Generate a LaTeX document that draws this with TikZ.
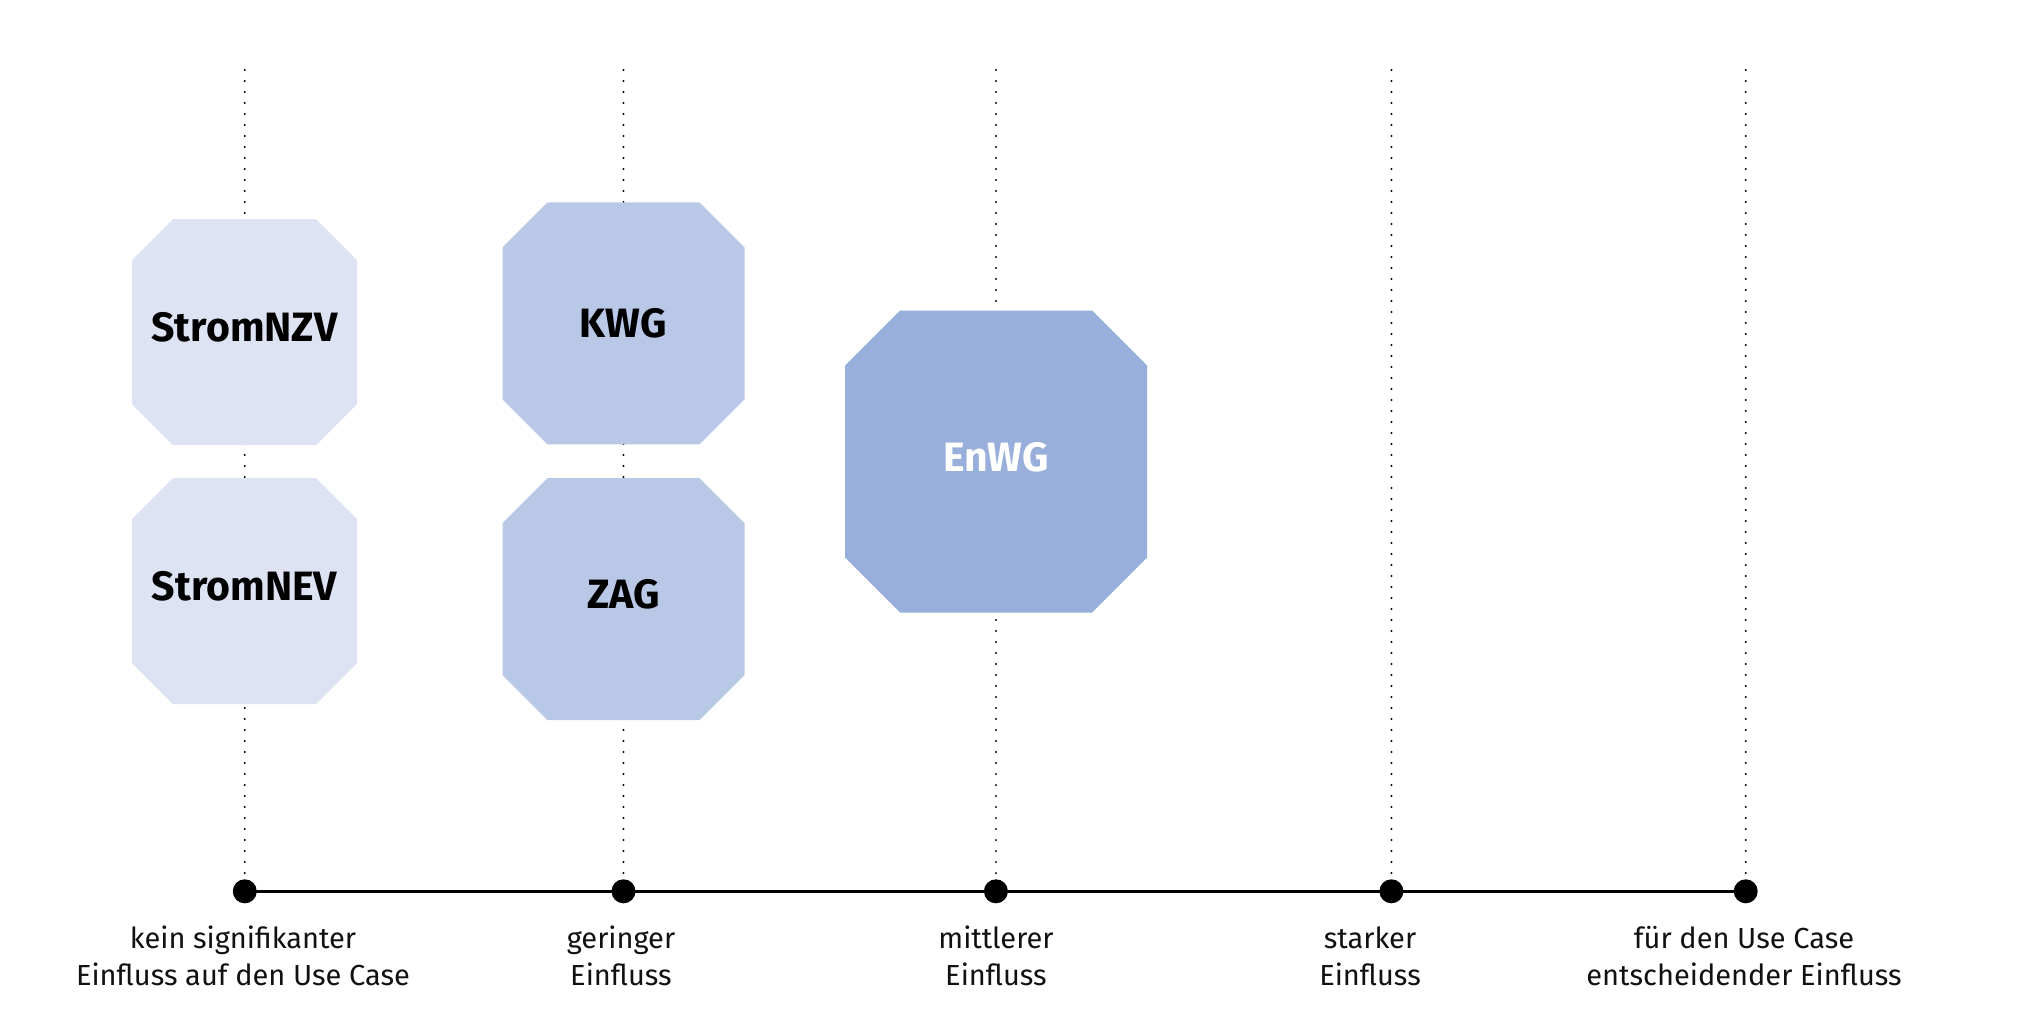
\documentclass[tikz,border=0pt]{standalone}
\usepackage{fontspec}
\setmainfont{Fira Sans}
\definecolor{clight}{HTML}{DEE3F3}
\definecolor{cmid}{HTML}{BAC8E8}
\definecolor{cdark}{HTML}{98AFDB}
\definecolor{ctext}{HTML}{111111}
\newcommand\octfill[6]{%
  \fill[#6] ({#1-#3/2+#5},{#2-#4/2}) -- ({#1+#3/2-#5},{#2-#4/2}) -- ({#1+#3/2},{#2-#4/2+#5})
    -- ({#1+#3/2},{#2+#4/2-#5}) -- ({#1+#3/2-#5},{#2+#4/2}) -- ({#1-#3/2+#5},{#2+#4/2})
    -- ({#1-#3/2},{#2+#4/2-#5}) -- ({#1-#3/2},{#2-#4/2+#5}) -- cycle;}
\tikzset{
  guide/.style={line width=2.2pt, line cap=round, dash pattern=on 0pt off 11pt, black},
  axisline/.style={line width=2.7pt, black},
  dotnode/.style={circle, fill=black, inner sep=0pt, minimum size=24pt},
  lawtext/.style={font=\fontsize{41}{46}\selectfont\bfseries, text=black, inner sep=0pt},
  lab/.style={font=\fontsize{29}{37}\selectfont, text=ctext, align=center, inner sep=0pt, anchor=base}
}
\begin{document}
\begin{tikzpicture}[x=1pt, y=-1pt]
\useasboundingbox (0,0) rectangle (2020,1018);
\fill[white] (0,0) rectangle (2020,1018);
% top coordinates of dotted guides
\coordinate (t1) at (244.8,70);
\coordinate (t2) at (623.5,70);
\coordinate (t3) at (995.9,70);
\coordinate (t4) at (1391.4,70);
\coordinate (t5) at (1745.7,70);
\coordinate (a1) at (244.8,891.3);
\coordinate (a2) at (623.5,891.3);
\coordinate (a3) at (995.9,891.3);
\coordinate (a4) at (1391.4,891.3);
\coordinate (a5) at (1745.7,891.3);
\foreach \i in {1,...,5} \draw[guide] (t\i) -- (a\i);
% octagons
\octfill{244.5}{332}{225}{226}{41}{clight}
\octfill{244.5}{591}{225}{226}{41}{clight}
\octfill{623.5}{323.4}{242}{242}{45}{cmid}
\octfill{623.5}{599.1}{242}{242}{45}{cmid}
\octfill{996}{461.5}{302}{302}{55}{cdark}
\node[lawtext] (nzv) at (244.5,327) {StromNZV};
\node[lawtext] (nev) at (244.5,586) {StromNEV};
\node[lawtext] (kwg) at (623.5,323) {KWG};
\node[lawtext] (zag) at (623.5,594) {ZAG};
\node[lawtext, text=white] (enwg) at (996,457) {EnWG};
% axis
\draw[axisline] (a1) -- (a5);
\foreach \i in {1,...,5} \node[dotnode] (p\i) at (a\i) {};
% labels (anchor = baseline of last line)
\node[lab] (l1) at (243,985) {kein signifikanter\\Einfluss auf den Use Case};
\node[lab] (l2) at (621,985) {geringer\\Einfluss};
\node[lab] (l3) at (996,985) {mittlerer\\Einfluss};
\node[lab] (l4) at (1370,985) {starker\\Einfluss};
\node[lab] (l5) at (1744,985) {für den Use Case\\entscheidender Einfluss};
\end{tikzpicture}
\end{document}
